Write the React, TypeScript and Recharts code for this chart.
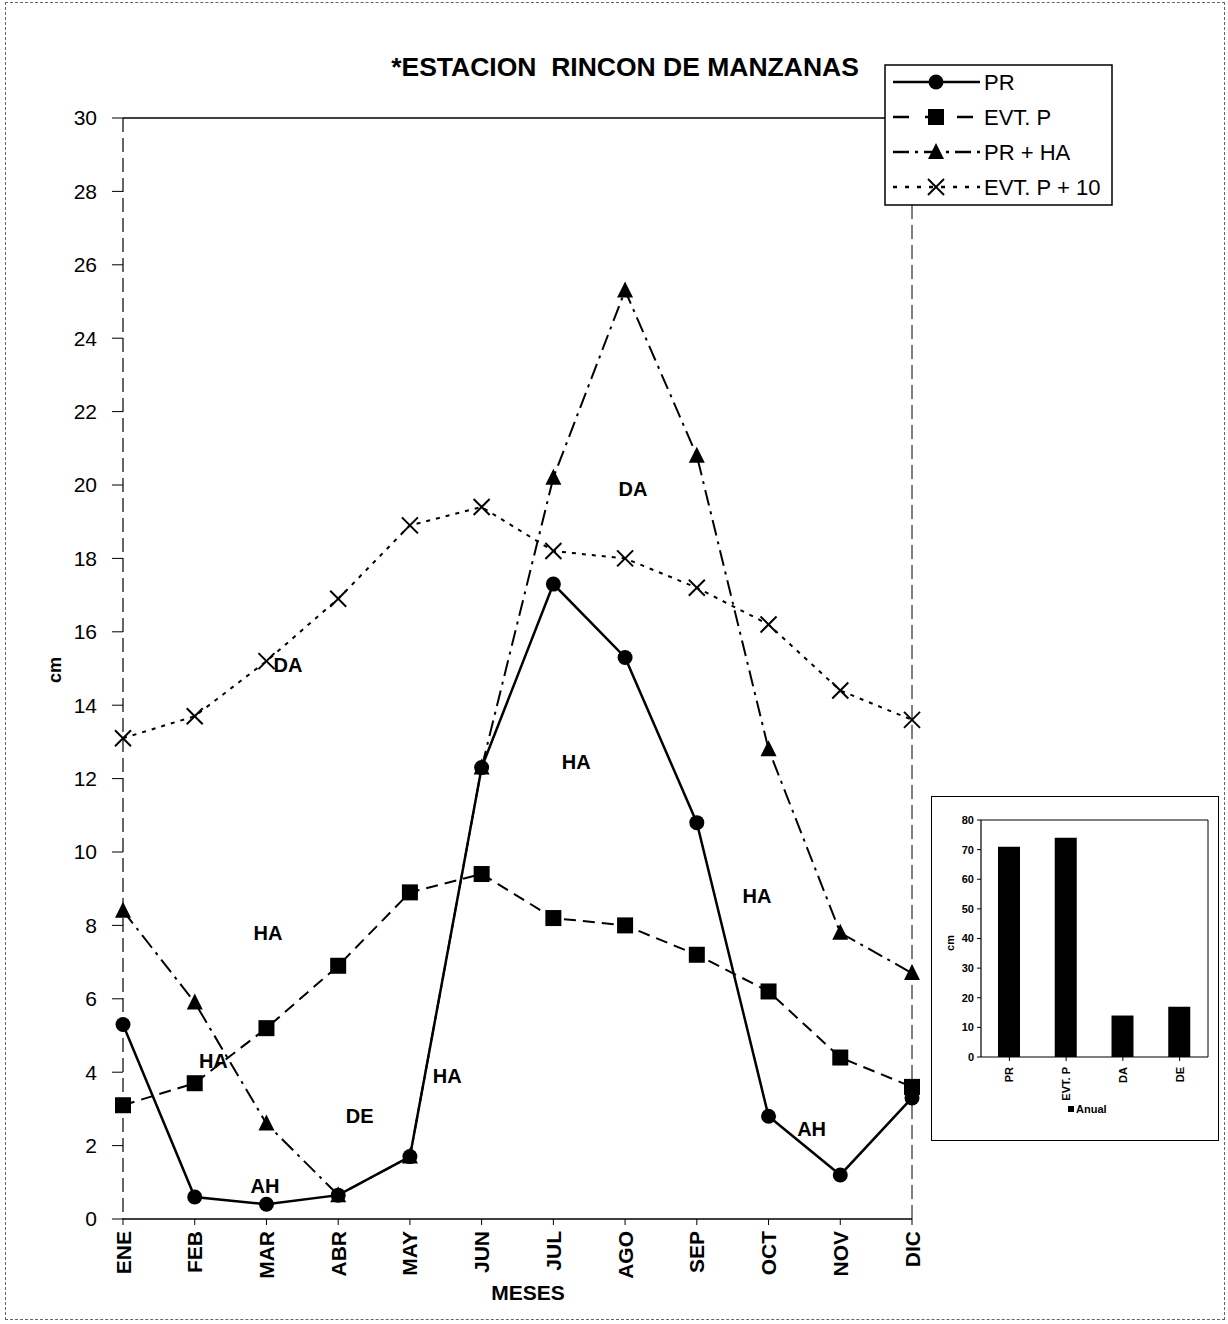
import React from 'react';
import {
  LineChart,
  Line,
  XAxis,
  YAxis,
  ReferenceLine,
  ReferenceDot,
  BarChart,
  Bar,
} from 'recharts';

const months = ['ENE', 'FEB', 'MAR', 'ABR', 'MAY', 'JUN', 'JUL', 'AGO', 'SEP', 'OCT', 'NOV', 'DIC'];
const pr = [5.3, 0.6, 0.4, 0.65, 1.7, 12.3, 17.3, 15.3, 10.8, 2.8, 1.2, 3.3];
const evtP = [3.1, 3.7, 5.2, 6.9, 8.9, 9.4, 8.2, 8.0, 7.2, 6.2, 4.4, 3.6];
const prHa = [8.4, 5.9, 2.6, 0.65, 1.7, 12.3, 20.2, 25.3, 20.8, 12.8, 7.8, 6.7];
const evtP10 = [13.1, 13.7, 15.2, 16.9, 18.9, 19.4, 18.2, 18.0, 17.2, 16.2, 14.4, 13.6];
const yTicks = [0, 2, 4, 6, 8, 10, 12, 14, 16, 18, 20, 22, 24, 26, 28, 30];

// zone labels written inside the plot (x = month index, y = cm)
const zoneText = ['DA', 'HA', 'HA', 'DE', 'AH', 'HA', 'HA', 'DA', 'HA', 'AH'];
const zoneX = [2.3, 2.02, 1.26, 3.3, 1.98, 4.52, 6.32, 7.11, 8.84, 9.6];
const zoneY = [15.1, 7.8, 4.3, 2.8, 0.9, 3.9, 12.45, 19.9, 8.8, 2.45];

const annualCats = ['PR', 'EVT. P', 'DA', 'DE'];
const annualVals = [71, 74, 14, 17];
const annualTicks = [0, 10, 20, 30, 40, 50, 60, 70, 80];

const FONT = '"Liberation Sans", Arial, sans-serif';

const rows = months.map((m, i) => ({
  idx: i,
  month: m,
  pr: pr[i],
  evtP: evtP[i],
  prHa: prHa[i],
  evtP10: evtP10[i],
}));

const annualRows = annualCats.map((c, i) => ({ cat: c, value: annualVals[i] }));

const zones = zoneText.map((t, i) => ({ text: t, x: zoneX[i], y: zoneY[i] }));

const CircleMark = ({ cx, cy }: any) => <circle cx={cx} cy={cy} r={7.5} fill="#000" />;
const SquareMark = ({ cx, cy }: any) => <rect x={cx - 8} y={cy - 8} width={16} height={16} fill="#000" />;
const TriMark = ({ cx, cy }: any) => (
  <polygon points={`${cx},${cy - 9} ${cx + 8},${cy + 7} ${cx - 8},${cy + 7}`} fill="#000" />
);
const CrossMark = ({ cx, cy }: any) => (
  <g stroke="#000" strokeWidth={2}>
    <line x1={cx - 8} y1={cy - 8} x2={cx + 8} y2={cy + 8} />
    <line x1={cx - 8} y1={cy + 8} x2={cx + 8} y2={cy - 8} />
  </g>
);

const dotOf = (Mark: any, name: string) => (p: any) => {
  if (p.cx == null || p.cy == null) return <g key={`${name}${p.index}`} />;
  return (
    <g key={`${name}${p.index}`}>
      <Mark cx={p.cx} cy={p.cy} />
    </g>
  );
};

const MonthTick = ({ x, y, payload }: any) => (
  <text
    x={x}
    y={y}
    transform={`rotate(-90, ${x}, ${y})`}
    textAnchor="end"
    dy="0.36em"
    fontFamily={FONT}
    fontWeight="bold"
    fontSize={21}
    fill="#000"
  >
    {months[payload.value]}
  </text>
);

const AnnualTick = ({ x, y, payload }: any) => (
  <text
    x={x}
    y={y}
    transform={`rotate(-90, ${x}, ${y})`}
    textAnchor="end"
    dy="0.36em"
    fontFamily={FONT}
    fontWeight="bold"
    fontSize={11}
    fill="#000"
  >
    {payload.value}
  </text>
);

const legendItems = [
  { label: 'PR', dash: undefined, Mark: CircleMark },
  { label: 'EVT. P', dash: '16 16', Mark: SquareMark },
  { label: 'PR + HA', dash: '16 6 3 6', Mark: TriMark },
  { label: 'EVT. P + 10', dash: '4 8', Mark: CrossMark },
];

const LegendBox = () => (
  <svg width={229} height={142} style={{ display: 'block' }}>
    <rect x={1} y={1} width={227} height={140} fill="#fff" stroke="#000" strokeWidth={1.5} />
    {legendItems.map((it, i) => {
      const cy = 18 + i * 35;
      return (
        <g key={it.label}>
          <line x1={9} y1={cy} x2={96} y2={cy} stroke="#000" strokeWidth={2.5} strokeDasharray={it.dash} />
          <it.Mark cx={52} cy={cy} />
          <text x={100} y={cy} dy="0.36em" fontFamily={FONT} fontSize={22} fill="#000">
            {it.label}
          </text>
        </g>
      );
    })}
  </svg>
);

export default function App() {
  return (
    <div
      style={{
        position: 'absolute',
        left: 0,
        top: 0,
        width: 1228,
        height: 1324,
        background: '#fff',
        fontFamily: FONT,
        overflow: 'hidden',
      }}
    >
      <div
        style={{
          position: 'absolute',
          left: 5,
          top: 2,
          width: 1218,
          height: 1316,
          border: '1px dashed #666',
        }}
      />
      <div
        style={{
          position: 'absolute',
          left: 0,
          width: 1250,
          top: 52,
          textAlign: 'center',
          fontWeight: 'bold',
          fontSize: 26.5,
          color: '#000',
        }}
      >
        *ESTACION&nbsp; RINCON DE MANZANAS
      </div>

      <div style={{ position: 'absolute', left: 0, top: 0 }}>
        <LineChart width={1228} height={1324} data={rows} margin={{ top: 118, right: 316, left: 63, bottom: 15 }}>
          <XAxis
            dataKey="idx"
            type="number"
            domain={[0, 11]}
            ticks={months.map((_, i) => i)}
            interval={0}
            height={90}
            tick={<MonthTick />}
            tickSize={6}
            tickMargin={6}
            axisLine={{ stroke: '#000', strokeWidth: 1.5 }}
            tickLine={{ stroke: '#000' }}
          />
          <YAxis
            type="number"
            domain={[0, 30]}
            ticks={yTicks}
            interval={0}
            width={60}
            tickSize={11}
            tickMargin={15}
            axisLine={{ stroke: '#000', strokeWidth: 1.2, strokeDasharray: '14 6' }}
            tickLine={{ stroke: '#000' }}
            tick={{ fontFamily: FONT, fontSize: 21, fill: '#000' }}
          />
          <ReferenceLine y={30} stroke="#000" strokeWidth={1.5} />
          <ReferenceLine x={11} stroke="#000" strokeWidth={1} strokeDasharray="14 6" />
          <Line
            dataKey="evtP10"
            stroke="#000"
            strokeWidth={2}
            strokeDasharray="4 6"
            dot={dotOf(CrossMark, 'x')}
            isAnimationActive={false}
          />
          <Line
            dataKey="evtP"
            stroke="#000"
            strokeWidth={2}
            strokeDasharray="12 7"
            dot={dotOf(SquareMark, 's')}
            isAnimationActive={false}
          />
          <Line
            dataKey="prHa"
            stroke="#000"
            strokeWidth={2}
            strokeDasharray="16 6 3 6"
            dot={dotOf(TriMark, 't')}
            isAnimationActive={false}
          />
          <Line
            dataKey="pr"
            stroke="#000"
            strokeWidth={2.5}
            dot={dotOf(CircleMark, 'c')}
            isAnimationActive={false}
          />
          {zones.map((z, i) => (
            <ReferenceDot
              key={`z${i}`}
              x={z.x}
              y={z.y}
              r={0}
              shape={(p: any) => (
                <text
                  x={p.cx}
                  y={p.cy}
                  dy="0.36em"
                  textAnchor="middle"
                  fontFamily={FONT}
                  fontWeight="bold"
                  fontSize={20}
                  fill="#000"
                >
                  {z.text}
                </text>
              )}
            />
          ))}
        </LineChart>
      </div>

      <div style={{ position: 'absolute', left: 884, top: 64 }}>
        <LegendBox />
      </div>

      <div
        style={{
          position: 'absolute',
          left: 528,
          top: 1293,
          transform: 'translate(-50%, -50%)',
          fontWeight: 'bold',
          fontSize: 21,
          color: '#000',
        }}
      >
        MESES
      </div>

      <div
        style={{
          position: 'absolute',
          left: 55,
          top: 670,
          transform: 'translate(-50%, -50%) rotate(-90deg)',
          fontWeight: 'bold',
          fontSize: 18,
          color: '#000',
        }}
      >
        cm
      </div>

      <div
        style={{
          position: 'absolute',
          left: 931,
          top: 796,
          width: 288,
          height: 345,
          boxSizing: 'border-box',
          border: '1.5px solid #000',
          background: '#fff',
        }}
      >
        <BarChart
          width={285}
          height={342}
          data={annualRows}
          margin={{ top: 23, right: 8, left: 20, bottom: 40 }}
        >
          <XAxis
            dataKey="cat"
            height={42}
            interval={0}
            tick={<AnnualTick />}
            tickSize={4}
            tickMargin={6}
            axisLine={{ stroke: '#000', strokeWidth: 1.2 }}
            tickLine={{ stroke: '#000' }}
          />
          <YAxis
            yAxisId="l"
            domain={[0, 80]}
            ticks={annualTicks}
            interval={0}
            width={29}
            tickSize={4}
            tickMargin={3}
            axisLine={{ stroke: '#000', strokeWidth: 1.2 }}
            tickLine={{ stroke: '#000' }}
            tick={{ fontFamily: FONT, fontWeight: 'bold', fontSize: 11, fill: '#000' }}
          />
          <YAxis
            yAxisId="r"
            orientation="right"
            domain={[0, 80]}
            width={1}
            tick={false}
            tickLine={false}
            axisLine={{ stroke: '#000', strokeWidth: 1 }}
          />
          <ReferenceLine yAxisId="l" y={80} stroke="#000" strokeWidth={1} />
          <Bar yAxisId="l" dataKey="value" fill="#000" barSize={22} isAnimationActive={false} />
        </BarChart>
        <div
          style={{
            position: 'absolute',
            left: 10,
            top: 140,
            transform: 'rotate(-90deg)',
            fontWeight: 'bold',
            fontSize: 11,
            color: '#000',
          }}
        >
          cm
        </div>
        <div
          style={{
            position: 'absolute',
            left: 136,
            top: 306,
            fontWeight: 'bold',
            fontSize: 11,
            color: '#000',
            display: 'flex',
            alignItems: 'center',
            gap: 2,
          }}
        >
          <span style={{ display: 'inline-block', width: 6, height: 6, background: '#000' }} />
          Anual
        </div>
      </div>
    </div>
  );
}
